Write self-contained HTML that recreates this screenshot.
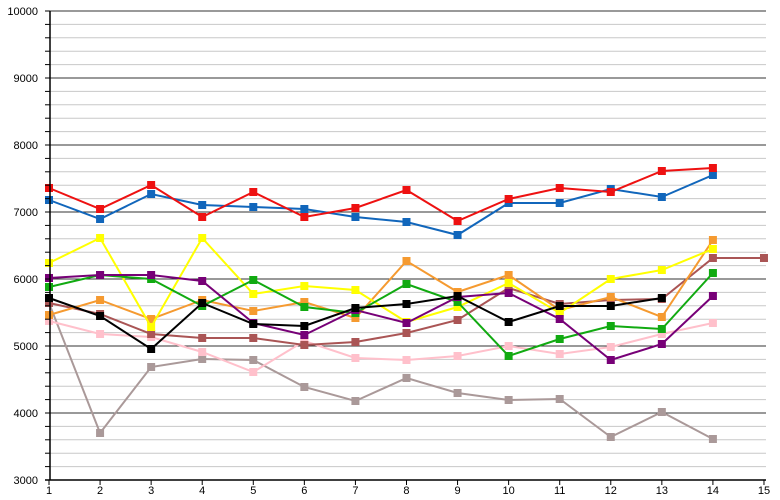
<!DOCTYPE html>
<html><head><meta charset="utf-8"><style>body{margin:0;background:#fff}svg{display:block}text{font-family:"Liberation Sans",sans-serif;font-size:11px;fill:#000}</style></head><body>
<svg width="780" height="500" viewBox="0 0 780 500">
<g id="grid"></g>
<g id="series"></g>
<g id="axes"></g>
</svg>
<script>
const NS="http://www.w3.org/2000/svg";
function el(p,t,a,txt){const e=document.createElementNS(NS,t);for(const k in a)e.setAttribute(k,a[k]);if(txt!==undefined)e.textContent=txt;p.appendChild(e);return e;}
const g=document.getElementById('grid'),s=document.getElementById('series'),ax=document.getElementById('axes');
const Y=v=>480-(v-3000)*0.067;
for(let v=3200;v<=10000;v+=200){const y=Y(v);const major=v%1000===0;el(g,'line',{x1:50,x2:766,y1:y,y2:y,stroke:major?'#333':'#c8c8c8','stroke-width':1});el(ax,'line',{x1:45,x2:50,y1:y,y2:y,stroke:'#000'});}
for(let v=3000;v<=10000;v+=1000)el(ax,'text',{x:38,y:Y(v)+4,'text-anchor':'end'},v);
el(ax,'line',{x1:50,x2:50,y1:11,y2:480,stroke:'#000','stroke-width':1.5});
el(ax,'line',{x1:45,x2:766,y1:480,y2:480,stroke:'#000','stroke-width':1.5});
const X=i=>49+(i-1)*51.07;
for(let i=1;i<=15;i++){el(ax,'line',{x1:X(i),x2:X(i),y1:480,y2:485,stroke:'#000'});el(ax,'text',{x:X(i),y:494,'text-anchor':'middle'},i);}
const D=[
['#aa9999',[303,433,367,359,360,387,401,378,393,400,399,437,412,439]],
['#ffc0cb',[321,334,337,352,372,341,358,360,356,346,354,347,334,323]],
['#aa5555',[303,314,334,338,338,345,342,333,320,288,304,300,299,258,258]],
['#f59a30',[315,300,319,300,311,302,318,261,292,275,310,297,317,240]],
['#ffff00',[263,238,327,238,294,286,290,322,307,283,313,279,270,249]],
['#11aa11',[287,275,279,306,280,307,313,284,302,356,339,326,329,273]],
['#770077',[278,275,275,281,323,335,310,323,297,293,319,360,344,296]],
['#000000',[298,316,349,303,324,326,308,304,296,322,306,306,298]],
['#1166bb',[200,219,194,205,207,209,217,222,235,203,203,189,197,175]],
['#ee1111',[188,209,185,217,192,217,208,190,221,199,188,192,171,168]]
];
for(const [c,ys] of D){el(s,'polyline',{points:ys.map((y,i)=>X(i+1)+','+y).join(' '),fill:'none',stroke:c,'stroke-width':2});
for(let i=0;i<ys.length;i++)el(s,'rect',{x:X(i+1)-4,y:ys[i]-4,width:8,height:8,fill:c});}
</script>
</body></html>
